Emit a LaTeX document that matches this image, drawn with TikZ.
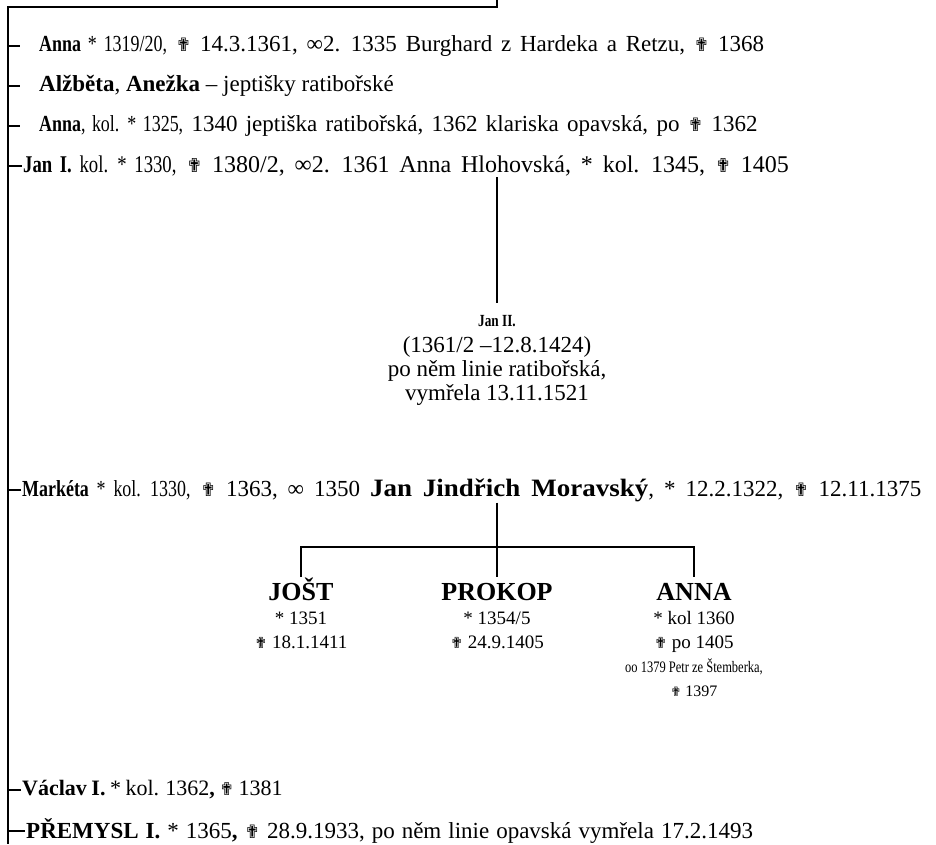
\documentclass[tikz,border=0pt]{standalone}
\usepackage{fontspec}
\usepackage{graphicx}
\setmainfont{Liberation Serif}
\newfontfamily\symfont{DejaVu Sans}
\newcommand{\kriz}{{\symfont\scalebox{0.8}{✟}}}
\newcommand{\uzk}[1]{\scalebox{0.78}[1]{#1}}
\newcommand{\mez}[2]{\fontsize{#1}{26}\selectfont\spaceskip=#2pt plus 1pt\relax}
\tikzset{
  radek/.style={anchor=west, inner xsep=1pt, inner ysep=1pt, font=\fontsize{23}{26}\selectfont},
  dite/.style={anchor=north, align=center, inner sep=1pt, font=\fontsize{19}{24}\selectfont},
  vetev/.style={line width=1.2pt}
}
\begin{document}
\begin{tikzpicture}[x=1pt, y=-1pt]
        \useasboundingbox (0,0) rectangle (936,844);
        \coordinate (horni) at (497,0);
        \coordinate (rohP) at (497,7);
        \coordinate (roh) at (8,7);
        \coordinate (pata) at (8,844);

        \node[radek, font=\mez{23}{8.8}] (r1) at (38,46) {\uzk{\textbf{Anna} * 1319/20,} \kriz{} 14.3.1361, ∞2. 1335 Burghard z Hardeka a Retzu, \kriz{} 1368};
        \node[radek] (r2) at (38,86) {\textbf{Alžběta}, \textbf{Anežka} -- jeptišky ratibořské};
        \node[radek, font=\mez{23}{8.3}] (r3) at (38,126) {\uzk{\textbf{Anna}, kol. * 1325,} 1340 jeptiška ratibořská, 1362 klariska opavská, po \kriz{} 1362};
        \node[radek, font=\mez{24}{9.8}] (r4) at (22,166) {\uzk{\textbf{Jan I.} kol. * 1330,} \kriz{} 1380/2, ∞2. 1361 Anna Hlohovská, * kol. 1345, \kriz{} 1405};

        \node[anchor=north, align=center, inner sep=1pt, font=\fontsize{23}{24}\selectfont] (jan2) at (497,303) {{\fontsize{17}{17}\selectfont\rule{0pt}{22pt}\uzk{\textbf{Jan II.}}}\\[2pt](1361/2 –12.8.1424)\\po něm linie ratibořská,\\vymřela 13.11.1521};

        \node[radek, font=\mez{23}{10}] (r5) at (21,490) {\uzk{\textbf{Markéta} * kol. 1330,} \kriz{} 1363, ∞ 1350 \scalebox{1.08}[1]{\fontsize{25}{26}\selectfont\bfseries Jan Jindřich Moravský}, * 12.2.1322, \kriz{} 12.11.1375};

        \node[dite] (jost) at (301,577) {{\fontsize{26}{26}\selectfont\bfseries\vphantom{Š}JOŠT}\\* 1351\\\kriz{} 18.1.1411};
        \node[dite] (prokop) at (497,577) {{\fontsize{26}{26}\selectfont\bfseries\vphantom{Š}PROKOP}\\* 1354/5\\\kriz{} 24.9.1405};
        \node[dite] (anna) at (694,577) {{\fontsize{26}{26}\selectfont\bfseries\vphantom{Š}ANNA}\\* kol 1360\\\kriz{} po 1405\\{\fontsize{16}{24}\selectfont\uzk{oo 1379 Petr ze Štemberka,}}\\{\fontsize{16}{24}\selectfont\kriz{} 1397}};
        \coordinate (vidlice) at (497,547);

        \node[radek, font=\mez{22}{4.5}] (r6) at (21,790) {\textbf{Václav I.} * kol. 1362\textbf{,} \kriz{} 1381};
        \node[radek, font=\mez{23}{7}] (r7) at (25,831) {\textbf{PŘEMYSL I.} * 1365\textbf{,} \kriz{} 28.9.1933, po něm linie opavská vymřela 17.2.1493};

        \draw[vetev] (horni) -- (rohP) -- (roh) -- (pata);
        \foreach \r in {r1,r2,r3} \draw[vetev, shorten >=18pt] (\r.west -| roh) -- (\r.west);
        \foreach \r in {r4,r5,r6,r7} \draw[vetev] (\r.west -| roh) -- (\r.west);

        \draw[vetev] (r4.south -| jan2.north) -- (jan2.north);
        \draw[vetev] (r5.south -| prokop.north) -- (prokop.north);
        \draw[vetev] (jost.north) |- (vidlice) -| (anna.north);
\end{tikzpicture}
\end{document}
